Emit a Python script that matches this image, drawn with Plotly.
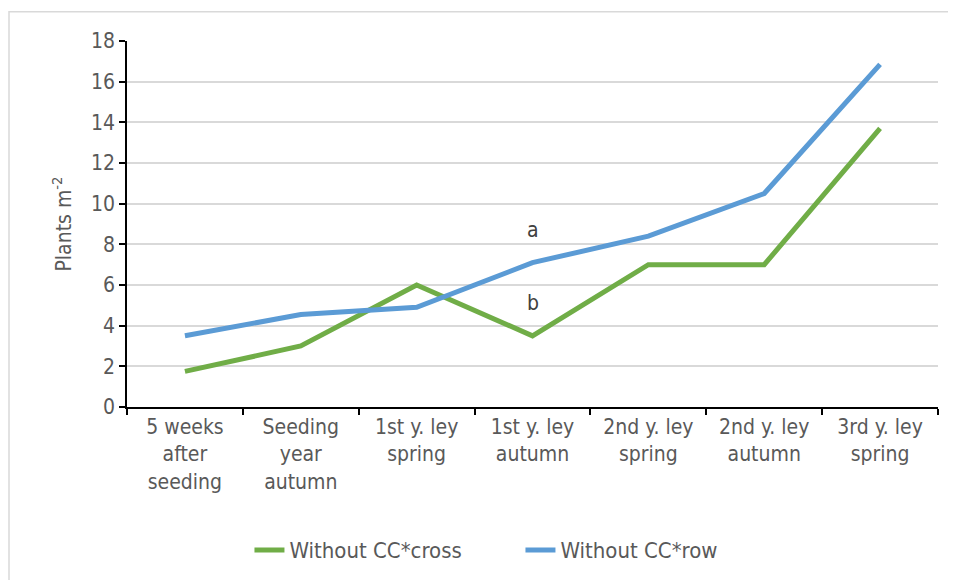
import plotly.graph_objects as go

categories = [
    "5 weeks<br>after<br>seeding",
    "Seeding<br>year<br>autumn",
    "1st y. ley<br>spring",
    "1st y. ley<br>autumn",
    "2nd y. ley<br>spring",
    "2nd y. ley<br>autumn",
    "3rd y. ley<br>spring",
]
cross = [1.75, 3.0, 6.0, 3.5, 7.0, 7.0, 13.7]
row = [3.5, 4.55, 4.9, 7.1, 8.4, 10.5, 16.85]

letters = ["a", "b"]
letter_y = [8.7, 5.1]
letter_cat = categories[3]

FONT = "DejaVu Sans Condensed, Liberation Sans, sans-serif"
GREY = "#595959"

fig = go.Figure()
fig.add_trace(go.Scatter(
    x=categories, y=cross, mode="lines",
    name="Without CC*cross",
    line=dict(color="#70AD47", width=5),
))
fig.add_trace(go.Scatter(
    x=categories, y=row, mode="lines",
    name="Without CC*row",
    line=dict(color="#5B9BD5", width=5),
))

for txt, yv in zip(letters, letter_y):
    fig.add_annotation(x=letter_cat, y=yv, text=txt, showarrow=False,
                       font=dict(size=21, color="#404040", family=FONT))

# chart-area border
fig.add_shape(type="rect", xref="paper", yref="paper",
              x0=-0.1455, x1=1.2, y0=-0.49, y1=1.08,
              line=dict(color="#d9d9d9", width=1.5), layer="below")

fig.update_xaxes(
    type="category",
    range=[-0.5, 6.5],
    showgrid=False,
    showline=True, linecolor="black", linewidth=1.5,
    ticks="outside", ticklen=6, tickcolor="black", tickwidth=1.5,
    tickson="boundaries",
    tickfont=dict(size=21, color=GREY, family=FONT),
    zeroline=False, automargin=False,
)
fig.update_yaxes(
    range=[0, 18], dtick=2,
    showgrid=True, gridcolor="#d9d9d9", gridwidth=1.5,
    showline=True, linecolor="black", linewidth=1.5,
    ticks="outside", ticklen=6, tickcolor="black", tickwidth=1.5,
    tickfont=dict(size=21, color=GREY, family=FONT),
    zeroline=False, automargin=False,
    title=dict(text="Plants m<sup>-2</sup>", font=dict(size=21, color=GREY, family=FONT),
               standoff=14),
)

# page body adds an 8px offset, so margins are shifted to compensate
fig.update_layout(
    width=956, height=580,
    margin=dict(l=119, r=26, t=33, b=181),
    paper_bgcolor="white", plot_bgcolor="white",
    font=dict(family=FONT, color=GREY),
    showlegend=True,
    legend=dict(orientation="h", x=0.151, xanchor="left", y=-0.391, yanchor="middle",
                font=dict(size=22, color=GREY, family=FONT),
                entrywidth=226, entrywidthmode="pixels",
                tracegroupgap=0),
)

fig.write_html("out.html")
